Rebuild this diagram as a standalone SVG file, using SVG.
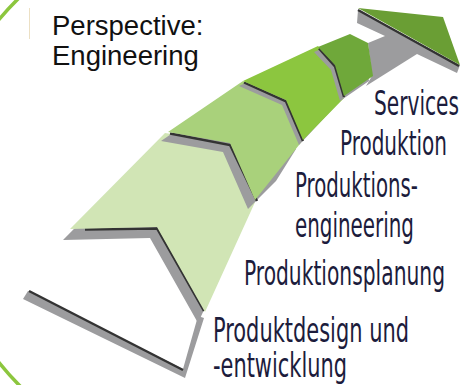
<svg xmlns="http://www.w3.org/2000/svg" width="474" height="385" viewBox="0 0 474 385">
<style>
.sh{fill:#9c9c9e}
.dk{fill:none;stroke:#333;stroke-width:2.4;stroke-linejoin:miter}
.ring{fill:none;stroke:#8cc63e;stroke-width:3.5}
.lbl{font-family:"Liberation Sans Narrow","DejaVu Sans Condensed","Roboto Condensed","Liberation Sans",sans-serif;font-stretch:condensed;font-size:33px;fill:#1c1c3c}
.ttl{font-family:"Liberation Sans",Arial,sans-serif;font-size:27.5px;fill:#111}
</style>
<rect width="474" height="385" fill="#fff"/>
<g id="ring">
<path class="ring" d="M -3,22 A 277 277 0 0 1 20,-3"/>
<path class="ring" d="M -3,360 A 277 277 0 0 0 22,388"/>
</g>
<line x1="29.5" y1="8" x2="29.5" y2="39" stroke="#ece0c4" stroke-width="1"/>
<g id="tail">
<polygon class="sh" points="28,291 183,369 198,316 204,318 185,378 23,299"/>
<polyline class="dk" points="29,291 183,370"/>
</g>
<g id="chevron1">
<polygon class="sh" points="63,240 158,144 223,154 249,211 198,323 150,238"/>
<polyline class="dk" points="85,229.5 157,228.5 204,311"/>
<polygon fill="#d1e5b5" points="70,229 165,133 230,143 256,200 205,312 157,227"/>
</g>
<g id="chevron2">
<polygon class="sh" points="161,141 236,90 279,109 296,149 276,181 248,209 223,152"/>
<polyline class="dk" points="170,133.5 230,145 257,201"/>
<polygon fill="#a9d17b" points="168,132 243,81 286,100 303,140 255,200 230,143"/>
</g>
<g id="chevron3">
<polygon class="sh" points="239,86 314,51 331,70 340,101 299,145 282,105"/>
<polyline class="dk" points="244,82.5 286,101.5 303,141"/>
<polygon fill="#8cc63f" points="243,81 318,46 336,66 345,97 303,140 286,100"/>
</g>
<g id="shaft">
<polygon class="sh" points="358,10 357,23 385,36 368,43 372,76 366,86 417,54 457,73 460,65"/>
</g>
<g id="chevron4">
<polygon class="sh" points="314,52 346,39 364,48 369,81 340,101 331,70"/>
<polyline class="dk" points="319,48.5 335,66.5 344,97"/>
<polygon fill="#6fa83a" points="318,47 350,34 368,43 373,76 344,96 335,65"/>
</g>
<g id="arrowhead">
<polyline class="dk" points="358,10 459,66"/>
<polygon fill="#6a9e34" points="358,8 443,17 460,65"/>
</g>
<g id="title">
<text class="ttl" x="52" y="35">Perspective:</text>
<text class="ttl" x="52" y="65">Engineering</text>
</g>
<g id="labels">
<text class="lbl" x="374" y="115" textLength="85" lengthAdjust="spacingAndGlyphs">Services</text>
<text class="lbl" x="340" y="155" textLength="107" lengthAdjust="spacingAndGlyphs">Produktion</text>
<text class="lbl" x="295" y="197" textLength="123" lengthAdjust="spacingAndGlyphs">Produktions-</text>
<text class="lbl" x="295" y="237" textLength="119" lengthAdjust="spacingAndGlyphs">engineering</text>
<text class="lbl" x="244" y="285" textLength="201" lengthAdjust="spacingAndGlyphs">Produktionsplanung</text>
<text class="lbl" x="213" y="342" textLength="196" lengthAdjust="spacingAndGlyphs">Produktdesign und</text>
<text class="lbl" x="213" y="377" textLength="134" lengthAdjust="spacingAndGlyphs">-entwicklung</text>
</g>
</svg>
